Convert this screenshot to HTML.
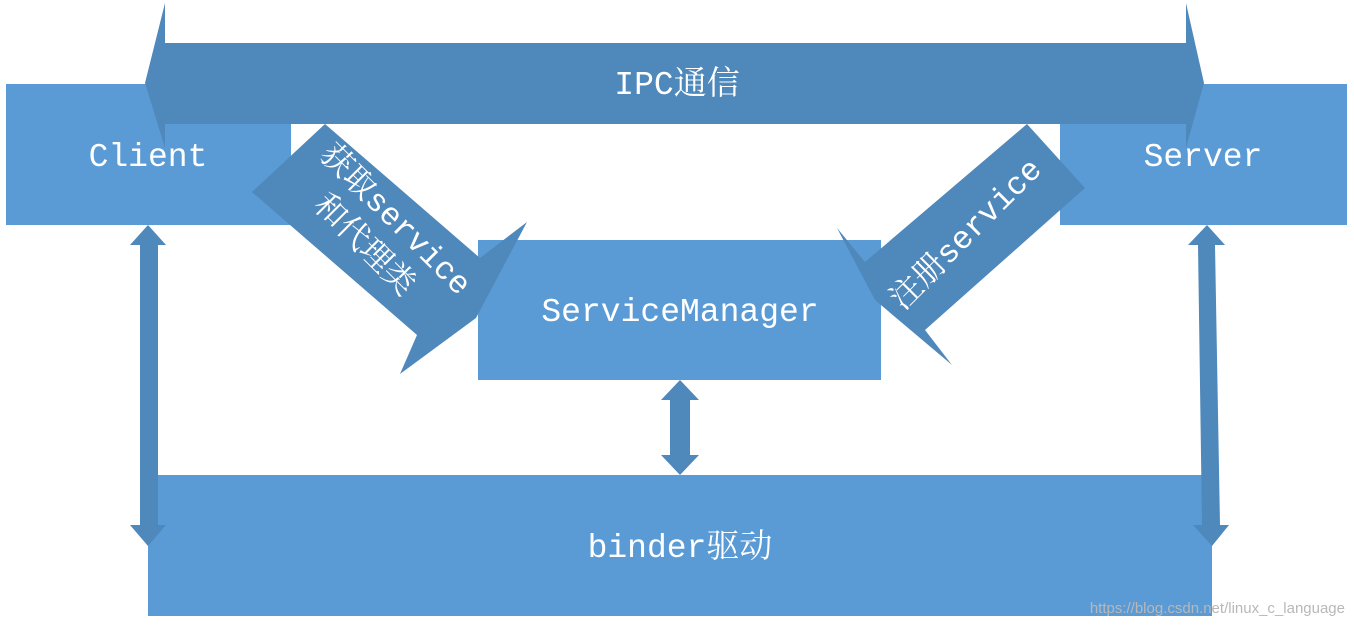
<!DOCTYPE html>
<html><head><meta charset="utf-8"><style>
html,body{margin:0;padding:0;background:#fff;width:1354px;height:626px;overflow:hidden}
svg{display:block}
text{font-family:"Liberation Mono","Noto Serif CJK SC","Noto Sans CJK SC",monospace;fill:#fff}
</style></head><body>
<svg width="1354" height="626" viewBox="0 0 1354 626" xmlns="http://www.w3.org/2000/svg">
<rect x="148" y="475" width="1064" height="141" fill="#5b9bd5"/>
<rect x="478" y="240" width="403" height="140" fill="#5b9bd5"/>
<rect x="6" y="84" width="285" height="141" fill="#5b9bd5"/>
<rect x="1060" y="84" width="287" height="141" fill="#5b9bd5"/>
<polygon points="145,83 165,3 165,43 1186,43 1186,3 1204,83 1186,148 1186,124 165,124 165,148" fill="#4f88bb"/>
<polygon points="252,192 325,124 480,258 527,222 476,318 400,374 417,335" fill="#4f88bb"/>
<polygon points="1027,124 1085,188 925,330 952,365 875,300 837,228 865,262" fill="#4f88bb"/>
<polygon points="148,225 166,245 158,245 158,525 166,525 148,546 130,525 140,525 140,245 130,245" fill="#4f88bb"/>
<polygon points="1207,225 1225,245 1215,245 1220,525 1229,525 1212,546 1193,525 1202,525 1198,245 1188,245" fill="#4f88bb"/>
<polygon points="680,380 699,400 690,400 690,455 699,455 680,475 661,455 670,455 670,400 661,400" fill="#4f88bb"/>
<text x="148" y="166" font-size="33" text-anchor="middle">Client</text>
<text x="1203" y="166" font-size="33" text-anchor="middle">Server</text>
<text x="677" y="94" font-size="33" text-anchor="middle">IPC通信</text>
<text x="680" y="321" font-size="33" text-anchor="middle">ServiceManager</text>
<text x="680" y="557" font-size="33" text-anchor="middle">binder驱动</text>
<g transform="translate(390,225) rotate(45)">
<text x="0" y="2" font-size="32" text-anchor="middle">获取service</text>
<text x="-4" y="42" font-size="32" text-anchor="middle">和代理类</text>
</g>
<g transform="translate(966,234) rotate(-45)">
<text x="0" y="10" font-size="32" text-anchor="middle">注册service</text>
</g>
<text x="1345" y="613" font-size="15" text-anchor="end" style="font-family:'Liberation Sans',sans-serif;fill:#b8b8b8">https://blog.csdn.net/linux_c_language</text>
</svg>
</body></html>
